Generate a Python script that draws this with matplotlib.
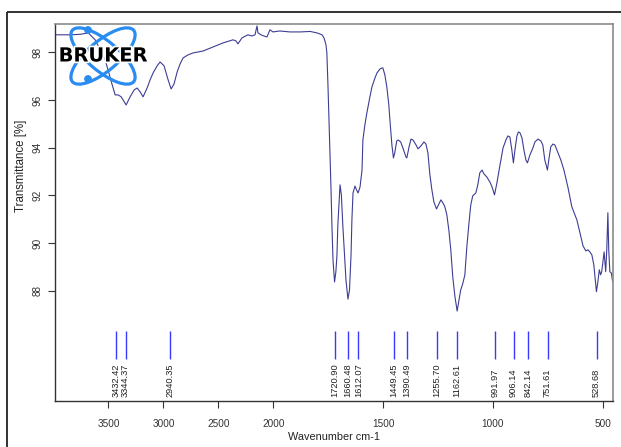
#!/usr/bin/env python
"""
   FT-IR transmittance spectrum, OPUS style (compressed scale above 2000 cm-1).
"""

import numpy as np
import matplotlib
matplotlib.use('Agg')
import matplotlib.pyplot as plt
from matplotlib.patches import Ellipse, Rectangle, Circle
import matplotlib.patheffects as pe

plt.rcParams['font.family'] = ['Liberation Sans', 'DejaVu Sans']

# spectrum (cm-1, %T)
wavenumber = [3984, 3848, 3757, 3684, 3621, 3530, 3466, 3439, 3412, 3384,
              3339, 3303, 3266, 3239, 3212, 3185, 3148, 3121, 3094, 3057,
              3030, 2994, 2957, 2930, 2903, 2875, 2848, 2821, 2775, 2730,
              2639, 2548, 2457, 2366, 2339, 2321, 2285, 2230, 2194, 2166,
              2148, 2139, 2112, 2085, 2057, 2030, 2003,
              1970, 1924, 1878, 1832, 1801, 1778, 1769, 1760, 1756, 1751,
              1747, 1742, 1737, 1733, 1728, 1721, 1715, 1710, 1706, 1696,
              1690, 1683, 1674, 1669, 1660, 1653, 1646, 1642, 1637, 1628,
              1621, 1614, 1605, 1596, 1592, 1583, 1574, 1560, 1551, 1537,
              1528, 1514, 1505, 1501, 1492, 1483, 1474, 1469, 1460, 1453,
              1447, 1438, 1431, 1420, 1410, 1396, 1392, 1382, 1373, 1364,
              1350, 1341, 1328, 1314, 1305, 1296, 1287, 1278, 1269, 1257,
              1246, 1237, 1228, 1219, 1210, 1201, 1192, 1183, 1173, 1163,
              1156, 1147, 1138, 1128, 1119, 1110, 1101, 1092, 1078, 1069,
              1060, 1050, 1041, 1028, 1014, 1004, 993, 982, 968, 954,
              941, 932, 923, 914, 907, 900, 891, 884, 877, 868,
              859, 850, 843, 832, 818, 809, 795, 782, 773, 764,
              752, 746, 737, 727, 718, 704, 691, 677, 659, 641,
              618, 604, 590, 577, 568, 559, 550, 541, 529, 523,
              516, 510, 505, 494, 487, 482, 477, 473, 468, 461, 455]
transmittance = [98.73, 98.73, 98.75, 98.81, 98.52, 97.68, 96.63, 96.21, 96.21, 96.13,
                 95.79, 96.13, 96.42, 96.50, 96.34, 96.13, 96.50, 96.84, 97.13, 97.43,
                 97.59, 97.43, 96.84, 96.46, 96.67, 97.17, 97.51, 97.76, 97.89, 97.97,
                 98.05, 98.22, 98.39, 98.52, 98.47, 98.35, 98.60, 98.73, 98.68, 98.73,
                 99.10, 98.81, 98.73, 98.68, 98.64, 98.94, 98.85,
                 98.89, 98.85, 98.85, 98.87, 98.81, 98.73, 98.60, 98.31, 97.97, 96.63,
                 95.37, 93.90, 92.23, 90.76, 89.29, 88.37, 88.79, 89.50, 90.76, 92.44,
                 92.02, 90.68, 89.29, 88.45, 87.65, 88.03, 89.50, 90.97, 92.10, 92.39,
                 92.23, 92.10, 92.35, 93.06, 94.32, 94.95, 95.45, 96.13, 96.54, 96.92,
                 97.13, 97.30, 97.34, 97.34, 97.05, 96.54, 95.79, 95.16, 94.11, 93.57,
                 93.78, 94.28, 94.32, 94.24, 93.99, 93.61, 93.57, 94.03, 94.36, 94.32,
                 94.11, 93.95, 94.07, 94.24, 94.15, 93.78, 92.86, 92.23, 91.73, 91.43,
                 91.64, 91.81, 91.69, 91.52, 91.19, 90.56, 89.72, 88.59, 87.75, 87.15,
                 87.53, 88.03, 88.28, 88.66, 89.83, 90.76, 91.60, 91.98, 92.10, 92.44,
                 92.94, 93.06, 92.90, 92.77, 92.56, 92.35, 92.02, 92.52, 93.27, 93.99,
                 94.32, 94.49, 94.45, 93.90, 93.36, 93.90, 94.49, 94.66, 94.62, 94.41,
                 93.90, 93.48, 93.36, 93.69, 93.99, 94.24, 94.36, 94.28, 94.11, 93.48,
                 93.06, 93.48, 94.03, 94.15, 94.11, 93.78, 93.48, 93.06, 92.35, 91.52,
                 90.97, 90.43, 89.88, 89.67, 89.72, 89.63, 89.51, 89.09, 87.96, 88.34,
                 88.88, 88.67, 88.80, 89.63, 88.80, 89.72, 91.27, 89.72, 88.80, 88.74, 88.37]

# picked peaks
peaks = [3432.42, 3344.37, 2940.35, 1720.90, 1660.48, 1612.07, 1449.45,
         1390.49, 1255.70, 1162.61, 991.97, 906.14, 842.14, 751.61, 528.68]

xticks = [3500, 3000, 2500, 2000, 1500, 1000, 500]
yticks = [88, 90, 92, 94, 96, 98]


def fwd(w):
    w = np.asarray(w, dtype=float)
    return np.where(w > 2000, 2000 + (w - 2000) / 2.0, w)


def inv(u):
    u = np.asarray(u, dtype=float)
    return np.where(u > 2000, 2000 + (u - 2000) * 2.0, u)


W, H = 621, 447
fig = plt.figure(figsize=(W / 100, H / 100), dpi=100)
ax = fig.add_axes([55.3 / W, 1 - 401 / H, (612.7 - 55.3) / W, (401 - 24.3) / H])

ax.set_xscale('function', functions=(fwd, inv))
ax.plot(wavenumber, transmittance, color='#3d3d95', lw=0.8)
ax.set_xlim(3984, 455)
ax.set_ylim(83.38, 99.17)

# peak markers and labels
ax.vlines(peaks, 85.12, 86.32, color='#3a3aff', lw=1.0)
for p in peaks:
    ax.text(p, 83.56, '%.2f' % p, rotation=90, ha='center', va='bottom',
            fontsize=6.7, color='#222222')

ax.set_xticks(xticks)
ax.set_xticklabels([str(t) for t in xticks])
ax.set_yticks(yticks)
ax.set_yticklabels([str(t) for t in yticks], rotation=90, va='center')
ax.minorticks_off()
ax.tick_params(axis='x', direction='out', length=5, width=0.8, pad=8,
               labelsize=7.2, colors='#333333')
ax.tick_params(axis='y', direction='out', length=5, width=0.8, pad=4,
               labelsize=7.2, colors='#333333')

for s in ('left', 'bottom'):
    ax.spines[s].set_color('#333333')
    ax.spines[s].set_linewidth(1.0)
for s in ('top', 'right'):
    ax.spines[s].set_color('#8a8a8a')
    ax.spines[s].set_linewidth(1.2)

ax.set_xlabel('Wavenumber cm-1', fontsize=7.8, color='#222222')
ax.xaxis.set_label_coords(0.5, -0.0956)
ax.xaxis.label.set_va('center')
ax.set_ylabel('Transmittance [%]', fontsize=8.3, color='#222222')
ax.yaxis.set_label_coords(-0.0615, 0.624)
ax.yaxis.label.set_va('center')

# overlay in pixel units for the frame and logo
ov = fig.add_axes([0, 0, 1, 1], zorder=5)
ov.set_xlim(0, W)
ov.set_ylim(H, 0)
ov.axis('off')
ov.patch.set_alpha(0)
ov.add_patch(Rectangle((7, 12), 800, 600, fill=False, ec='#222222', lw=1.3))

logo_blue = '#2a8cf0'
ov.add_patch(Ellipse((103, 56), 80, 30, angle=40, fill=False, ec=logo_blue, lw=2.3))
ov.add_patch(Ellipse((103, 56), 80, 30, angle=-40, fill=False, ec=logo_blue, lw=2.3))
ov.add_patch(Circle((88, 30), 3.2, color=logo_blue))
ov.add_patch(Circle((88, 79), 3.2, color=logo_blue))
ov.text(103, 56, 'BRUKER', ha='center', va='center', fontsize=14,
        fontweight='bold', family='DejaVu Sans', color='black',
        path_effects=[pe.withStroke(linewidth=2.5, foreground='white')])

fig.savefig('out.png', dpi=100)
